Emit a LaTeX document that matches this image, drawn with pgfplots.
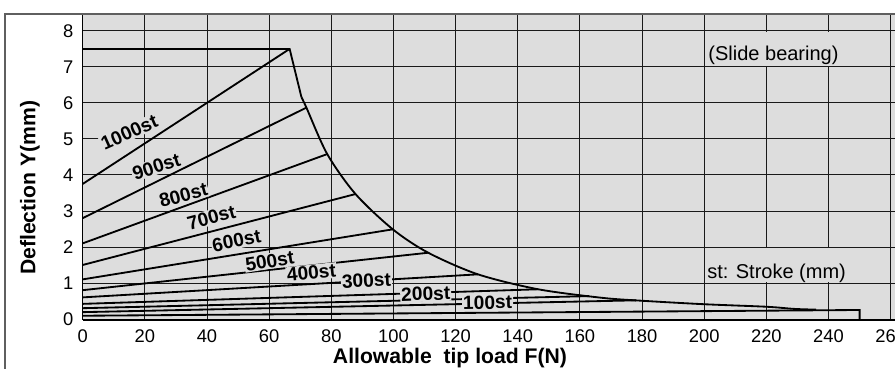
\documentclass[border=0pt]{standalone}
\usepackage{fontspec}
\setmainfont{Liberation Sans}
\usepackage{pgfplots}
\pgfplotsset{compat=1.18}
\definecolor{panel}{RGB}{221,221,221}
\definecolor{gridc}{RGB}{25,25,25}
\definecolor{framec}{RGB}{95,95,95}
\tikzset{
  lbl/.style={fill=panel, inner sep=0.6pt, font=\fontsize{11.5}{13}\selectfont\bfseries},
  ln/.style={black, line width=1.1pt, mark=none},
}

\begin{document}
\begin{tikzpicture}
\begin{axis}[
  at={(0pt,0pt)}, anchor=south west,
  scale only axis, width=487.4pt, height=183.6pt,
  xmin=0, xmax=261.4, ymin=-0.028, ymax=8.47,
  xtick={0,20,...,260}, ytick={0,1,...,8},
  axis x line*=bottom, axis y line*=left,
  axis line style={line width=0.9pt, black, -},
  axis background/.style={fill=panel},
  grid=major, major grid style={gridc, line width=0.55pt},
  major tick length=0pt,
  tick label style={font=\fontsize{11}{13}\selectfont},
  /pgf/number format/assume math mode=true,
  yticklabel style={xshift=-2pt},
  xticklabel style={yshift=-2.3pt},
  xlabel={\textbf{Allowable\ \ tip load F(N)}},
  xlabel style={at={(axis cs:118.2,-1.236)}, anchor=base, font=\fontsize{12.7}{15}\selectfont},
  ylabel={\textbf{Deflection Y(mm)}},
  ylabel style={at={(axis cs:-16.96,3.64)}, anchor=center, font=\fontsize{12.7}{15}\selectfont},
  clip=false,
]
% stroke lines: deflection at zero load up to the allowable load limit
\addplot[ln] coordinates {(0,3.75) (66.6,7.5)};
\addplot[ln] coordinates {(0,2.8) (72,5.87)};
\addplot[ln] coordinates {(0,2.1) (78.7,4.58)};
\addplot[ln] coordinates {(0,1.5) (87.8,3.47)};
\addplot[ln] coordinates {(0,1.1) (99.8,2.49)};
\addplot[ln] coordinates {(0,0.8) (111.2,1.84)};
\addplot[ln] coordinates {(0,0.6) (127.2,1.24)};
\addplot[ln] coordinates {(0,0.42) (146.6,0.825)};
\addplot[ln] coordinates {(0,0.3) (163,0.635)};
\addplot[ln] coordinates {(0,0.19) (178,0.518)};
\addplot[ln] coordinates {(0,0.09) (250,0.25) (250,-0.028)};
% allowable envelope
\addplot[ln] coordinates {(0,7.5) (66.6,7.5) (70.4,6.16)};
\addplot[ln, smooth, tension=0.5] coordinates {(70.4,6.16) (72,5.87) (78.7,4.58) (87.8,3.47) (99.8,2.49) (111.2,1.84) (127.2,1.24) (146.6,0.825) (166.9,0.59) (179.3,0.51) (200,0.41) (220,0.34) (229,0.28) (236,0.26)};

% stroke labels
\node[lbl, rotate=24] at (axis cs:15.0,5.18) {1000st};
\node[lbl, rotate=18] at (axis cs:23.7,4.23) {900st};
\node[lbl, rotate=15] at (axis cs:32.4,3.44) {800st};
\node[lbl, rotate=15] at (axis cs:41.4,2.82) {700st};
\node[lbl, rotate=11] at (axis cs:49.5,2.17) {600st};
\node[lbl, rotate=9] at (axis cs:60.2,1.61) {500st};
\node[lbl, rotate=6] at (axis cs:73.6,1.29) {400st};
\node[lbl, rotate=3] at (axis cs:91.3,1.07) {300st};
\node[lbl, rotate=2] at (axis cs:110.4,0.70) {200st};
\node[lbl, rotate=1] at (axis cs:130.3,0.46) {100st};

% notes
\fill[panel] (axis cs:201.4,7.03) rectangle (axis cs:247,7.97);
\node[anchor=base, font=\fontsize{12}{14}\selectfont] at (axis cs:222.3,7.19) {(Slide bearing)};
\fill[panel] (axis cs:201.4,1.03) rectangle (axis cs:247,1.97);
\node[anchor=base, font=\fontsize{12}{14}\selectfont] at (axis cs:223.3,1.13) {st: Stroke (mm)};
\end{axis}
\draw[framec, line width=0.9pt] (-46.6pt,-30pt) -- (-46.6pt,183.6pt) -- (488pt,183.6pt);
\pgfresetboundingbox
\path (-49.6pt,-29.4pt) rectangle (487.4pt,192pt);
\end{tikzpicture}
\end{document}
